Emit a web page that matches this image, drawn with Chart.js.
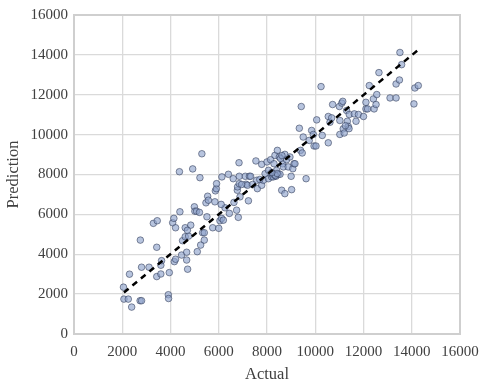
<!DOCTYPE html>
<html>
<head>
<meta charset="utf-8">
<script src="https://cdn.jsdelivr.net/npm/chart.js@4"></script>
<style>
  html, body { margin: 0; padding: 0; background: #fff; }
  #wrap { width: 480px; height: 385px; }
</style>
</head>
<body>
<div id="wrap"><canvas id="myChart" width="480" height="385"></canvas></div>
<script>
const gActual = [
  2050, 2070, 2250, 2300, 2390, 2740, 2800, 2750, 2800, 3110, 3290, 3450, 3430, 3430, 3600, 3600, 3630,
  3910, 3920, 3950, 4090, 4140, 4210, 4160, 4210, 4370, 4390, 4460, 4500, 4610, 4610, 4670, 4670, 4710,
  4750, 4840, 4920, 4990, 5010, 5080, 5110, 5220, 5250, 5300, 5330, 5400, 5400, 5470, 5510, 5540, 5570,
  5750, 5840, 5860, 5900, 5910, 6000, 6050, 6120, 6130, 6190, 6260, 6400, 6440, 6600, 6630, 6740, 6770,
  6810, 6780, 6840, 6850, 6850, 6880, 7100, 7130, 7190, 7230, 7270, 7320, 7540, 7570, 7600, 7780, 7780,
  7850, 7920, 8000, 8060, 8060, 8150, 8190, 8230, 8260, 8290, 8330, 8370, 8400, 8430, 8470, 8510, 8540,
  8610, 8650, 8680, 8740, 8740, 8810, 8880, 8950, 9000, 9020, 9070, 9120, 9160, 9340, 9390, 9420, 9460,
  9500, 9620, 9750, 9850, 9920, 9950, 10030, 10060, 10240, 10290, 10540, 10540, 10610, 10680, 10720,
  11000, 11020, 11020, 11100, 11140, 11160, 11200, 11300, 11330, 11370, 11410, 11620, 11690, 11790,
  12000, 12100, 12100, 12170, 12240, 12410, 12440, 12520, 12550, 12640, 13100, 13350, 13350, 13490,
  13510, 13580, 14090, 14130, 14270,
  8300, 8350, 8420, 8200, 7700, 7400, 6950, 6100, 5200, 4700, 11400, 11250, 8560, 8620
]
const gPredicted = [
  2350, 1750, 1750, 3000, 1350, 1670, 1670, 4710, 3350, 3350, 5550, 5680, 4350, 2880, 3010, 3450, 3680,
  1970, 1780, 3080, 5580, 5800, 5330, 3630, 3750, 8140, 6130, 3960, 4680, 5330, 4880, 3710, 4100, 3250,
  4910, 5460, 8280, 6380, 6160, 6160, 4130, 7840, 4460, 9040, 5080, 5080, 4710, 6580, 5880, 6910, 6710,
  5330, 6630, 7180, 7290, 7540, 5300, 5680, 5800, 7880, 5710, 6330, 8010, 6050, 7790, 6600, 6210, 7210,
  5850, 7380, 8590, 7910, 7540, 6880, 7910, 7510, 7460, 6680, 7910, 7910, 8680, 7710, 7290, 8510, 7460,
  7710, 8040, 8630, 7790, 8210, 8740, 7880, 7990, 7880, 8540, 8960, 7910, 8210, 9210, 8010, 8880, 8010,
  7210, 8540, 8380, 9010, 7040, 8740, 8380, 8880, 7910, 7240, 8290, 8540, 8540, 10320, 9210, 11410, 9080,
  9880, 7790, 9710, 10210, 10010, 9430, 9430, 10740, 12410, 9960, 9590, 10910, 10620, 10840, 11510,
  11410, 10710, 10010, 11580, 11670, 10290, 10080, 11210, 10670, 10410, 11010, 11040, 10670, 11010,
  10910, 11290, 11620, 11290, 12460, 11790, 11290, 11510, 12010, 13110, 11840, 11840, 12540, 12740,
  14120, 13510, 11540, 12340, 12460,
  8000, 7950, 8050, 8100, 7750, 7500, 7500, 6500, 6100, 5200, 10300, 10450, 8800, 8950
]
const gFitX = [2070, 14350]
const gFitY = [2080, 14330]
const gTickValues = [0, 2000, 4000, 6000, 8000, 10000, 12000, 14000, 16000]

const gFont = "'Liberation Serif', 'Times New Roman', serif"

function buildPoints(xs, ys) {
  return xs.map((x, i) => ({ x: x, y: ys[i] }))
}

function displayChart() {
  const ctx = document.getElementById('myChart').getContext('2d')
  new Chart(ctx, {
    type: 'scatter',
    data: {
      datasets: [{
        label: 'Prediction',
        data: buildPoints(gActual, gPredicted),
        backgroundColor: 'rgba(145,165,205,0.65)',
        borderColor: 'rgba(45,55,85,0.7)',
        borderWidth: 0.8,
        pointRadius: 3.3,
        order: 2
      }, {
        label: 'Fit',
        type: 'line',
        data: buildPoints(gFitX, gFitY),
        borderColor: '#000',
        borderWidth: 2.5,
        borderDash: [6, 5],
        pointRadius: 0,
        fill: false,
        order: 1
      }]
    },
    options: {
      responsive: false,
      animation: false,
      layout: { padding: { top: 14, right: 0, bottom: 0, left: 4 } },
      plugins: {
        legend: { display: false },
        tooltip: { enabled: false }
      },
      scales: {
        x: {
          type: 'linear',
          min: 0,
          max: 16000,
          afterBuildTicks: scale => { scale.ticks = gTickValues.map(v => ({ value: v })) },
          afterFit: scale => {
            scale.height = 51
            scale.paddingRight = 20
          },
          grid: { color: '#dadada', lineWidth: 1.3, drawTicks: false },
          border: { color: '#cfcfcf', width: 2 },
          ticks: {
            color: '#404040', padding: 9, maxRotation: 0,
            font: { family: gFont, size: 15 },
            callback: value => String(value)
          },
          title: { display: true, text: 'Actual', color: '#404040', padding: { top: 2, bottom: 0 }, font: { family: gFont, size: 16.5 } }
        },
        y: {
          type: 'linear',
          min: 0,
          max: 16000,
          afterBuildTicks: scale => { scale.ticks = gTickValues.map(v => ({ value: v })) },
          afterFit: scale => { scale.width = 70 },
          grid: { color: '#dadada', lineWidth: 1.3, drawTicks: false },
          border: { color: '#cfcfcf', width: 2 },
          ticks: {
            color: '#404040', padding: 6,
            font: { family: gFont, size: 15 },
            callback: value => String(value)
          },
          title: { display: true, text: 'Prediction', color: '#404040', padding: { top: 0, bottom: 2 }, font: { family: gFont, size: 16.5 } }
        }
      }
    },
    plugins: [{
      id: 'plotFrame',
      afterDraw(chart) {
        const a = chart.chartArea
        const c = chart.ctx
        c.save()
        c.strokeStyle = '#cfcfcf'
        c.lineWidth = 2
        c.strokeRect(a.left, a.top, a.right - a.left, a.bottom - a.top)
        c.restore()
      }
    }]
  })
}

displayChart()
</script>
</body>
</html>
